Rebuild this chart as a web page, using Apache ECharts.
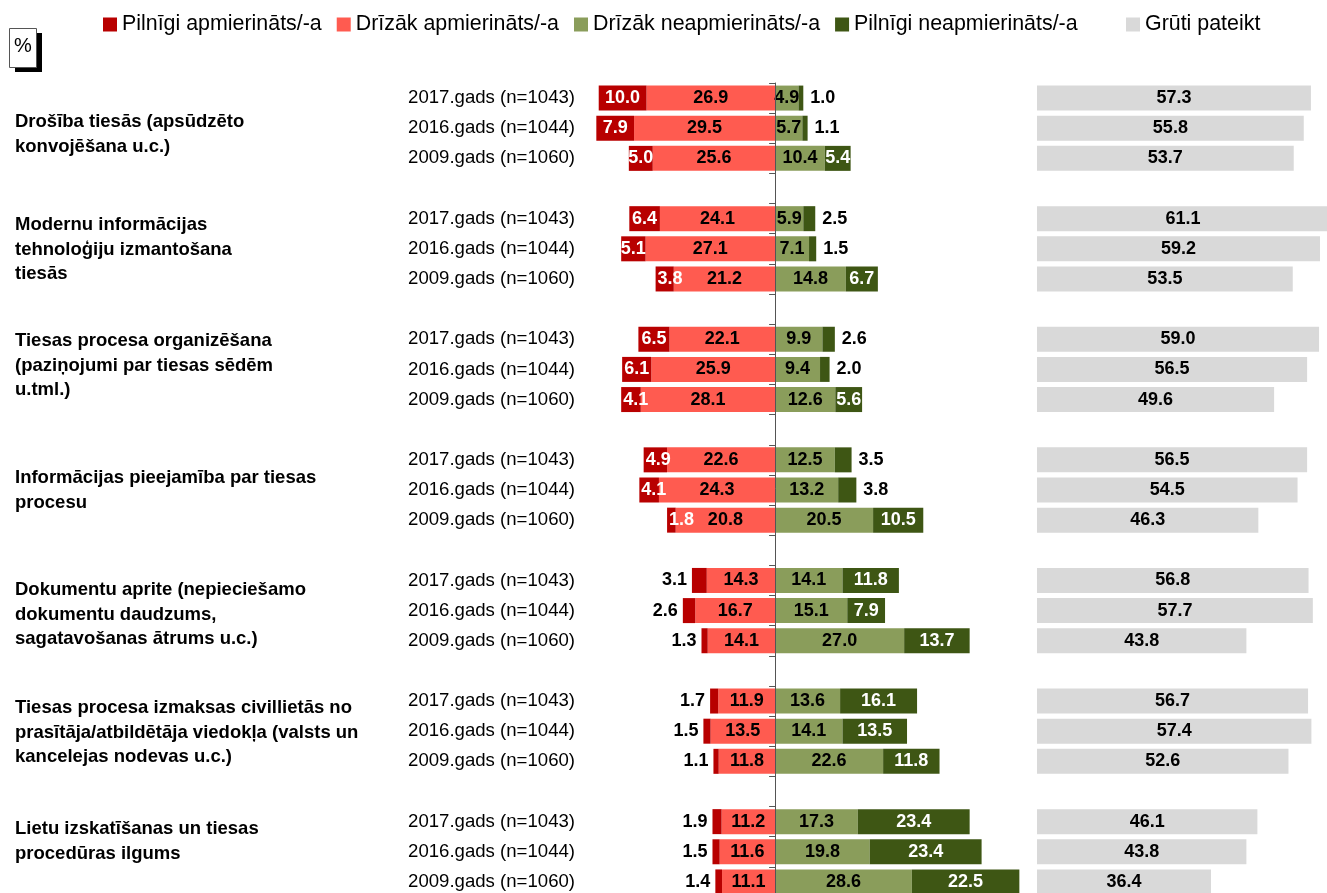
<!DOCTYPE html>
<html>
<head>
<meta charset="utf-8">
<title>Apmierinātība ar tiesu darbu</title>
<script src="https://cdn.jsdelivr.net/npm/echarts@6/dist/echarts.min.js"></script>
<style>
  html, body { margin: 0; padding: 0; background: #fff; }
  #chart { width: 1327px; height: 893px; }
</style>
</head>
<body>
<div id="chart"></div>
<script>
// grupas (jautājumi) un gadi
var groups = [
  'Drošība tiesās (apsūdzēto\nkonvojēšana u.c.)',
  'Modernu informācijas\ntehnoloģiju izmantošana\ntiesās',
  'Tiesas procesa organizēšana\n(paziņojumi par tiesas sēdēm\nu.tml.)',
  'Informācijas pieejamība par tiesas\nprocesu',
  'Dokumentu aprite (nepieciešamo\ndokumentu daudzums,\nsagatavošanas ātrums u.c.)',
  'Tiesas procesa izmaksas civillietās no\nprasītāja/atbildētāja viedokļa (valsts un\nkancelejas nodevas u.c.)',
  'Lietu izskatīšanas un tiesas\nprocedūras ilgums'
];
var years = ['2017.gads (n=1043)', '2016.gads (n=1044)', '2009.gads (n=1060)'];

var seriesNames = ['Pilnīgi apmierināts/-a', 'Drīzāk apmierināts/-a', 'Drīzāk neapmierināts/-a', 'Pilnīgi neapmierināts/-a', 'Grūti pateikt'];

// vērtības pa grupām: 2017, 2016, 2009
var pilnigiApm = [10.0, 7.9, 5.0, 6.4, 5.1, 3.8, 6.5, 6.1, 4.1, 4.9, 4.1, 1.8, 3.1, 2.6, 1.3, 1.7, 1.5, 1.1, 1.9, 1.5, 1.4];
var drizakApm = [26.9, 29.5, 25.6, 24.1, 27.1, 21.2, 22.1, 25.9, 28.1, 22.6, 24.3, 20.8, 14.3, 16.7, 14.1, 11.9, 13.5, 11.8, 11.2, 11.6, 11.1];
var drizakNeapm = [4.9, 5.7, 10.4, 5.9, 7.1, 14.8, 9.9, 9.4, 12.6, 12.5, 13.2, 20.5, 14.1, 15.1, 27.0, 13.6, 14.1, 22.6, 17.3, 19.8, 28.6];
var pilnigiNeapm = [1.0, 1.1, 5.4, 2.5, 1.5, 6.7, 2.6, 2.0, 5.6, 3.5, 3.8, 10.5, 11.8, 7.9, 13.7, 16.1, 13.5, 11.8, 23.4, 23.4, 22.5];
var grutiPateikt = [57.3, 55.8, 53.7, 61.1, 59.2, 53.5, 59.0, 56.5, 49.6, 56.5, 54.5, 46.3, 56.8, 57.7, 43.8, 56.7, 57.4, 52.6, 46.1, 43.8, 36.4];

var colors = ['#B80000', '#FF5B50', '#8A9D5B', '#3E5614', '#D9D9D9'];

// rindas ar tukšu rindu starp grupām
var rowLabels = [];
var rowIndex = [];
groups.forEach(function (g, gi) {
  years.forEach(function (y, yi) {
    rowLabels.push(y);
    rowIndex.push(gi * 3 + yi);
  });
  if (gi < groups.length - 1) {
    rowLabels.push('');
    rowIndex.push(-1);
  }
});

function expand(values, sign, labelFor) {
  return rowIndex.map(function (k) {
    if (k < 0) return '-';
    var item = { value: sign * values[k] };
    var lab = labelFor ? labelFor(values[k], Math.floor(k / 3)) : null;
    if (lab) item.label = lab;
    return item;
  });
}

var font = 'Liberation Sans, Arial, sans-serif';
var fmt = function (p) { return Math.abs(p.value).toFixed(1); };
var labelBase = { show: true, formatter: fmt, fontSize: 18, fontWeight: 'bold', fontFamily: font };

function barSeries(name, data, color, labelColor) {
  return {
    name: name,
    type: 'bar',
    stack: 'all',
    barWidth: 25,
    data: data,
    itemStyle: { color: color },
    label: Object.assign({}, labelBase, { color: labelColor }),
    emphasis: { disabled: true }
  };
}

var chart = echarts.init(document.getElementById('chart'), null, { renderer: 'canvas' });

var groupTops = [110, 213, 329, 466, 578, 696, 817];

chart.setOption({
  animation: false,
  textStyle: { fontFamily: font },
  legend: [
    {
      data: seriesNames.slice(0, 4),
      left: 103,
      top: 14,
      padding: 0,
      icon: 'rect',
      itemWidth: 14,
      itemHeight: 14,
      itemGap: 15,
      textStyle: { fontSize: 21.4, color: '#000', padding: [0, 0, 0, 0] },
      selectedMode: false
    },
    {
      data: [seriesNames[4]],
      left: 1126,
      top: 14,
      padding: 0,
      icon: 'rect',
      itemWidth: 14,
      itemHeight: 14,
      textStyle: { fontSize: 21.4, color: '#000', padding: [0, 0, 0, 0] },
      selectedMode: false
    }
  ],
  grid: [
    { left: 560, width: 478, top: 83, height: 814, outerBoundsMode: 'none' },
    { left: 1037, width: 296.4, top: 83, height: 814, outerBoundsMode: 'none' }
  ],
  xAxis: [
    { type: 'value', gridIndex: 0, min: -45, max: 55, show: false },
    { type: 'value', gridIndex: 1, min: 0, max: 62, show: false }
  ],
  yAxis: [
    {
      type: 'category',
      gridIndex: 0,
      inverse: true,
      data: rowLabels,
      z: 10,
      axisLine: { show: true, onZero: true, lineStyle: { color: '#555', width: 1 } },
      axisTick: { show: true, length: 6, lineStyle: { color: '#555' } },
      axisLabel: { margin: -15, fontSize: 18.6, color: '#000' }
    },
    {
      type: 'category',
      gridIndex: 1,
      inverse: true,
      data: rowLabels,
      show: false
    }
  ],
  series: [
    barSeries(seriesNames[1], expand(drizakApm, -1), colors[1], '#000'),
    barSeries(seriesNames[0], expand(pilnigiApm, -1, function (v, g) {
      if (g >= 4) return { position: 'left', color: '#000', distance: 5 };
      if (v < 5) return { position: 'insideLeft', distance: 2 };
      return null;
    }), colors[0], '#fff'),
    barSeries(seriesNames[2], expand(drizakNeapm, 1), colors[2], '#000'),
    barSeries(seriesNames[3], expand(pilnigiNeapm, 1, function (v) {
      if (v < 5) return { position: 'right', color: '#000', distance: 7 };
      return null;
    }), colors[3], '#fff'),
    {
      name: seriesNames[4],
      type: 'bar',
      xAxisIndex: 1,
      yAxisIndex: 1,
      barWidth: 25,
      data: expand(grutiPateikt, 1),
      itemStyle: { color: colors[4] },
      label: Object.assign({}, labelBase, { color: '#000', position: 'inside' }),
      emphasis: { disabled: true }
    }
  ],
  graphic: [
    { type: 'rect', left: 15, top: 33, shape: { width: 27, height: 39 }, style: { fill: '#000' } },
    { type: 'rect', left: 9, top: 28, shape: { width: 27, height: 39 }, style: { fill: '#fff', stroke: '#555', lineWidth: 1 } },
    { type: 'text', left: 14, top: 36, style: { text: '%', fontSize: 20, fill: '#000', fontFamily: font } }
  ].concat(groups.map(function (g, i) {
    return {
      type: 'text',
      left: 15,
      top: groupTops[i],
      style: {
        text: g,
        fontSize: 18.5,
        fontWeight: 'bold',
        lineHeight: 24.5,
        fill: '#000',
        fontFamily: font
      }
    };
  }))
});
</script>
</body>
</html>
